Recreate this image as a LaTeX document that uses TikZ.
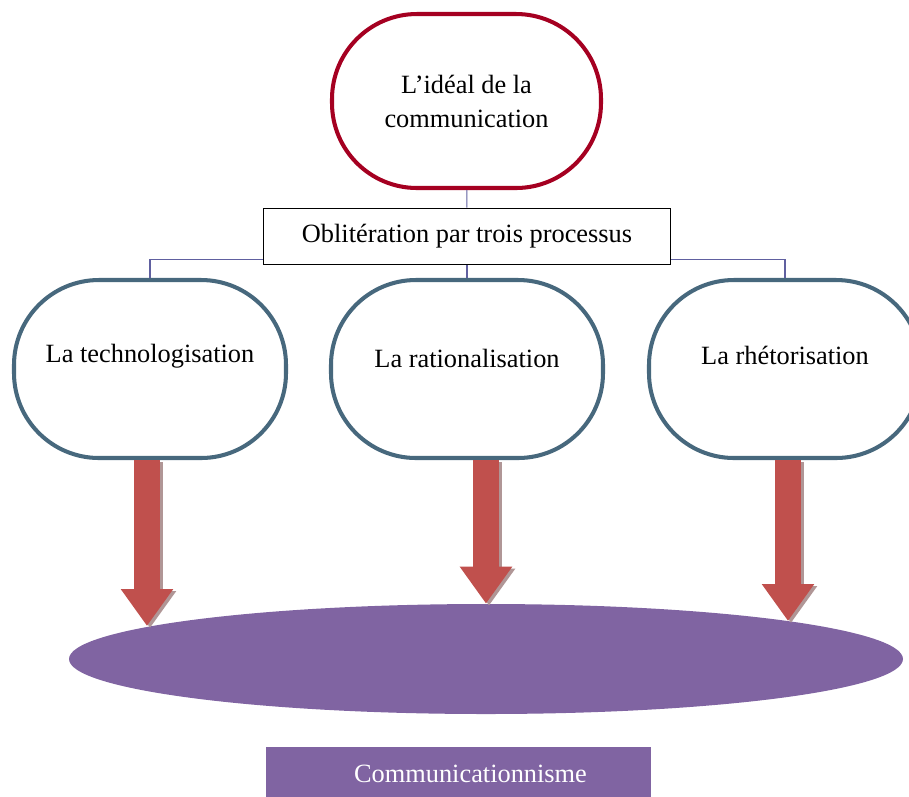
\documentclass[tikz,border=0pt]{standalone}
\usepackage{fontspec}
\setmainfont{Liberation Serif}
\usetikzlibrary{shapes.geometric, arrows.meta, positioning}
\definecolor{idealred}{RGB}{165,0,33}
\definecolor{slateblue}{RGB}{71,104,125}
\definecolor{linkblue}{RGB}{96,96,160}
\definecolor{arrowred}{RGB}{192,80,77}
\definecolor{shadowgray}{RGB}{176,150,150}
\definecolor{mauve}{RGB}{128,100,162}
\tikzstyle{ideal} = [rectangle, rounded corners=1.7cm, minimum width=5.38cm, minimum height=3.48cm, align=center, draw=idealred, line width=2.3pt, fill=white]
\tikzstyle{oblit} = [rectangle, minimum width=8.14cm, minimum height=1.12cm, draw=black, line width=1pt, fill=white]
\tikzstyle{process} = [rectangle, rounded corners=1.7cm, minimum width=5.44cm, minimum height=3.56cm, draw=slateblue, line width=2.3pt, fill=white]
\tikzstyle{link} = [draw=linkblue, line width=0.6pt]
\tikzstyle{bigarrow} = [draw=arrowred, line width=0.52cm, -{Triangle[width=1cm,length=0.74cm]}]
\tikzstyle{shadowarrow} = [bigarrow, draw=shadowgray, transform canvas={shift={(0.06,-0.04)}}]
\tikzstyle{result} = [ellipse, minimum width=16.68cm, minimum height=2.2cm, inner sep=0pt, fill=mauve]
\tikzstyle{tag} = [rectangle, minimum width=7.7cm, minimum height=1.06cm, fill=mauve]

\begin{document}
\begin{tikzpicture}[font=\fontsize{15}{19.3}\selectfont]
        \useasboundingbox (0,0) rectangle (18.18,-15.92);
        \node (ideal) [ideal] at (9.33,-2.02) {L’idéal de la\\communication};
        \node (oblit) [oblit] at (9.34,-4.73) {Oblitération par trois processus};
        \node (techno) [process, label={[yshift=0.26cm]center:La technologisation}] at (3.0,-7.38) {};
        \node (ratio) [process, label={[yshift=0.22cm]center:La rationalisation}] at (9.34,-7.38) {};
        \node (rheto) [process, label={[yshift=0.28cm]center:La rhétorisation}] at (15.7,-7.38) {};
        \node (comm) [result] at (9.72,-13.18) {};
        \node (label) [tag, label={[text=white, xshift=0.24cm]center:Communicationnisme}] at (9.17,-15.47) {};
        % tree links
        \draw [link] (ideal) -- (oblit);
        \draw [link] (oblit) -- (ratio);
        \draw [link] ([yshift=0.12cm]oblit.south west) -| (techno.north);
        \draw [link] ([yshift=0.12cm]oblit.south east) -| (rheto.north);
        % block arrows onto the ellipse
        \coordinate (tipA) at (2.94,-12.52);
        \coordinate (tipB) at (comm.north);
        \coordinate (tipC) at (15.76,-12.42);
        \foreach \from/\to in {techno/tipA, ratio/tipB, rheto/tipC} {
            \draw [shadowarrow] (\to |- \from.south) -- (\to);
            \draw [bigarrow] (\to |- \from.south) -- (\to);
        }
\end{tikzpicture}
\end{document}
